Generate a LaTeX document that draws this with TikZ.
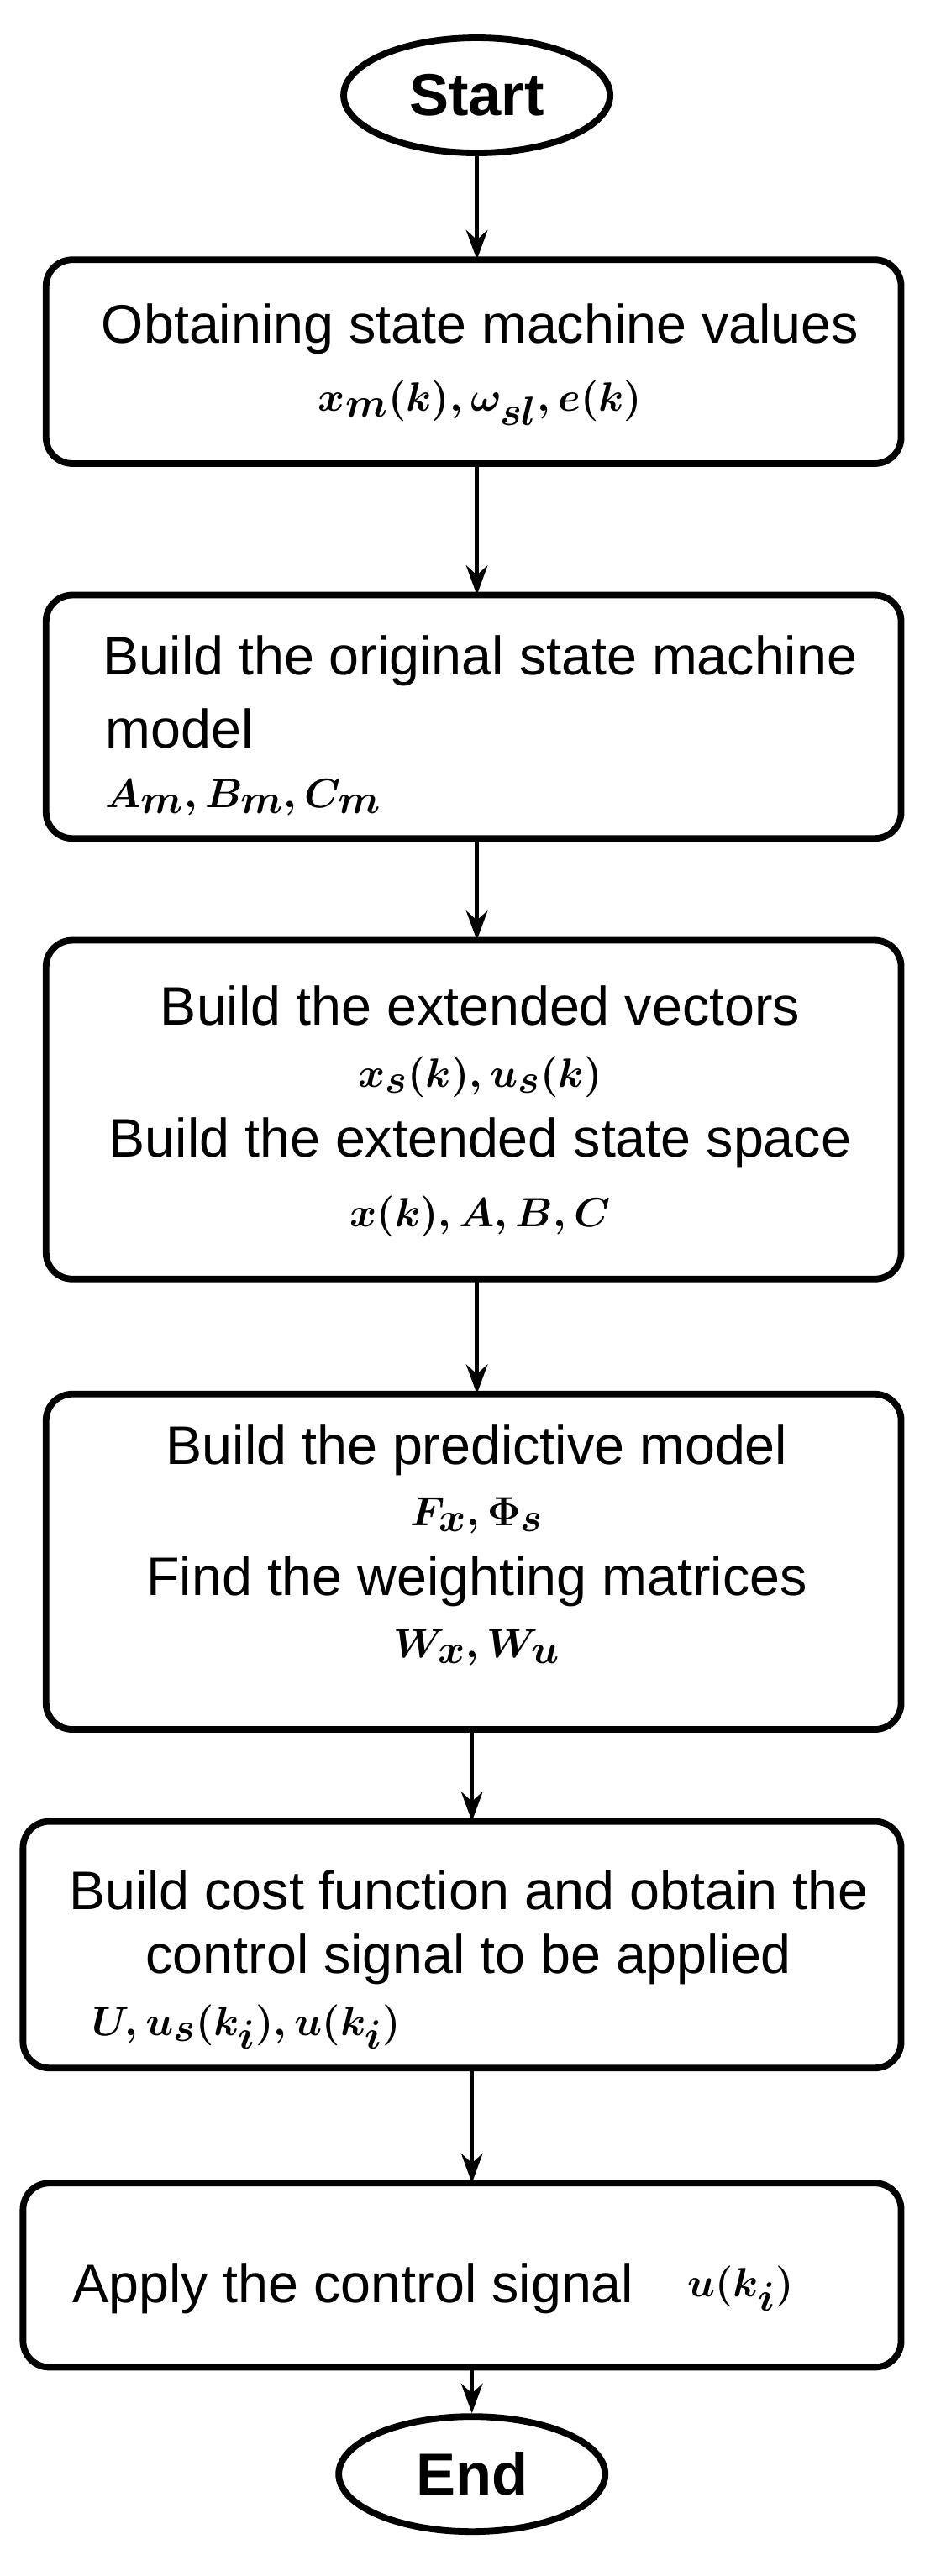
\documentclass[tikz,border=0pt]{standalone}
\usepackage{fontspec}
\setmainfont{Liberation Sans}
\usetikzlibrary{shapes.geometric,arrows.meta}
\begin{document}
\begin{tikzpicture}[x=1pt,y=-1pt,
  box/.style={draw,line width=4pt,rounded corners=16pt},
  term/.style={draw,ellipse,line width=4pt,minimum width=162pt,minimum height=70pt,font=\fontsize{36}{42}\selectfont\bfseries},
  txt/.style={font=\fontsize{33}{38}\selectfont\boldmath,inner sep=0pt},
  arr/.style={-{Stealth[length=18pt,width=13pt]},line width=2.8pt}]
\useasboundingbox (0,0) rectangle (575,1567);
\node[term] (s) at (290,58) {Start};
\node[term] (e) at (287,1505) {End};
\draw[box] (28,158) rectangle (548,282); \coordinate (b1t) at (290,158); \coordinate (b1b) at (290,282);
\draw[box] (28,362) rectangle (548,510); \coordinate (b2t) at (290,362); \coordinate (b2b) at (290,510);
\draw[box] (28,572) rectangle (548,778); \coordinate (b3t) at (290,572); \coordinate (b3b) at (290,778);
\draw[box] (28,848) rectangle (548,1052); \coordinate (b4t) at (290,848); \coordinate (b4b) at (287,1052);
\draw[box] (14,1108) rectangle (548,1258); \coordinate (b5t) at (287,1108); \coordinate (b5b) at (287,1258);
\draw[box] (14,1328) rectangle (548,1440); \coordinate (b6t) at (287,1328); \coordinate (b6b) at (287,1440);
\node[txt] (t1a) at (292,200) {Obtaining state machine values};
\node[txt] (t1b) at (292,245) {$x_m(k),\omega_{sl},e(k)$};
\node[txt] (t2a) at (292,402) {Build the original state machine};
\node[txt,anchor=west] (t2b) at (64,443) {model};
\node[txt,anchor=west] (t2c) at (64,485) {$A_m,B_m,C_m$};
\node[txt] (t3a) at (292,612) {Build the extended vectors};
\node[txt] (t3b) at (292,655) {$x_s(k),u_s(k)$};
\node[txt] (t3c) at (292,695) {Build the extended state space};
\node[txt] (t3d) at (292,740) {$x(k),A,B,C$};
\node[txt] (t4a) at (290,882) {Build the predictive model};
\node[txt] (t4b) at (290,922) {$F_x,\Phi_s$};
\node[txt] (t4c) at (290,962) {Find the weighting matrices};
\node[txt] (t4d) at (290,1002) {$W_x,W_u$};
\node[txt] (t5a) at (285,1150) {Build cost function and obtain the};
\node[txt] (t5b) at (285,1192) {control signal to be applied};
\node[txt,anchor=west] (t5c) at (56,1233) {$U,u_s(k_i),u(k_i)$};
\node[txt,anchor=west] (t6a) at (44,1392) {Apply the control signal};
\node[txt,anchor=west] (t6b) at (418,1392) {$u(k_i)$};
\draw[arr] (s) -- (b1t);
\draw[arr] (b1b) -- (b2t);
\draw[arr] (b2b) -- (b3t);
\draw[arr] (b3b) -- (b4t);
\draw[arr] (b4b) -- (b5t);
\draw[arr] (b5b) -- (b6t);
\draw[arr] (b6b) -- (e);
\end{tikzpicture}
\end{document}
